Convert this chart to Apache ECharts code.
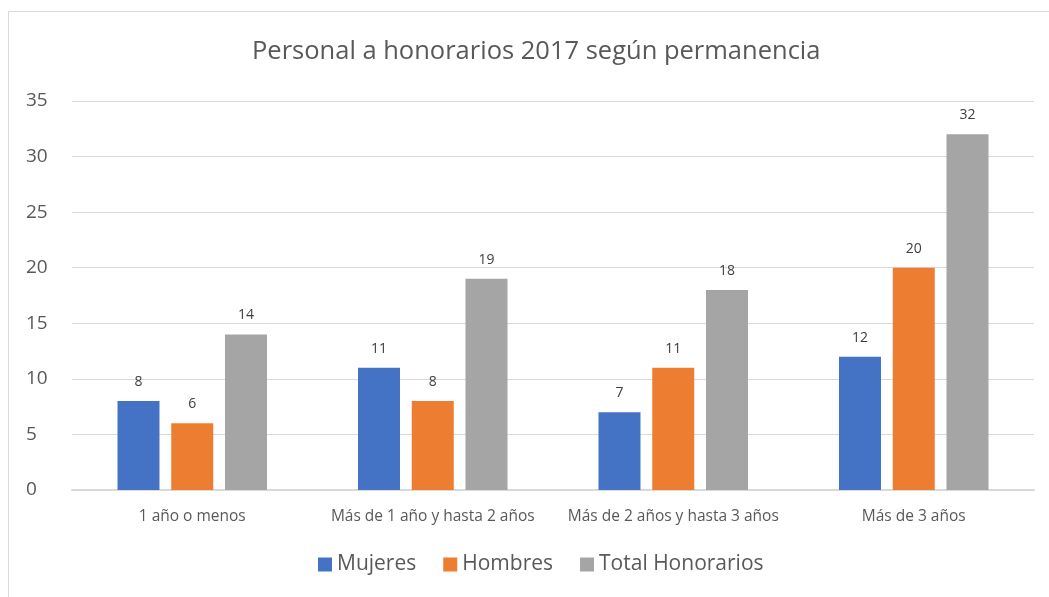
<!DOCTYPE html>
<html>
<head>
<meta charset="UTF-8">
<title>Personal a honorarios 2017</title>
<script src="https://cdn.jsdelivr.net/npm/echarts@6/dist/echarts.min.js"></script>
<style>
  html, body { margin: 0; padding: 0; background: #fff; }
  #chart { width: 1049px; height: 597px; }
</style>
</head>
<body>
<div id="chart"></div>
<script>
// datos
const categorias = ['1 año o menos', 'Más de 1 año y hasta 2 años', 'Más de 2 años y hasta 3 años', 'Más de 3 años']
const mujeres = [8, 11, 7, 12]
const hombres = [6, 8, 11, 20]
const totalHonorarios = [14, 19, 18, 32]

const fuente = '"Open Sans", sans-serif'
const gris = '#595959'

function serie(nombre, datos, color) {
	return {
		name: nombre,
		type: 'bar',
		data: datos,
		barWidth: 42,
		barGap: '28%',
		itemStyle: { color: color },
		label: {
			show: true,
			position: 'top',
			distance: 12,
			color: '#404040',
			fontFamily: fuente,
			fontSize: 14
		}
	}
}

const chart = echarts.init(document.getElementById('chart'))
chart.setOption({
	animation: false,
	title: {
		text: 'Personal a honorarios 2017 según permanencia',
		left: 247,
		top: 34,
		textStyle: { color: gris, fontFamily: fuente, fontSize: 25.5, fontWeight: 'normal' }
	},
	graphic: [{
		type: 'rect',
		shape: { x: 8.5, y: 11.5, width: 1100, height: 700 },
		style: { fill: 'none', stroke: '#d9d9d9', lineWidth: 1 },
		silent: true
	}],
	legend: {
		bottom: 17,
		left: 313,
		itemWidth: 14,
		itemHeight: 14,
		itemGap: 27,
		icon: 'rect',
		textStyle: { color: gris, fontFamily: fuente, fontSize: 21 },
		data: ['Mujeres', 'Hombres', 'Total Honorarios']
	},
	grid: { left: 72, right: 15, top: 101, bottom: 107 },
	xAxis: {
		type: 'category',
		data: categorias,
		axisLine: { lineStyle: { color: '#d9d9d9', width: 2 } },
		axisTick: { show: false },
		axisLabel: { color: gris, fontFamily: fuente, fontSize: 15.5, margin: 19, interval: 0 }
	},
	yAxis: {
		type: 'value',
		min: 0,
		max: 35,
		interval: 5,
		splitLine: { lineStyle: { color: '#d9d9d9' } },
		axisLabel: { color: gris, fontFamily: fuente, fontSize: 19, margin: 46, align: 'left' }
	},
	series: [
		serie('Mujeres', mujeres, '#4472c4'),
		serie('Hombres', hombres, '#ed7d31'),
		serie('Total Honorarios', totalHonorarios, '#a5a5a5')
	]
})
</script>
</body>
</html>
